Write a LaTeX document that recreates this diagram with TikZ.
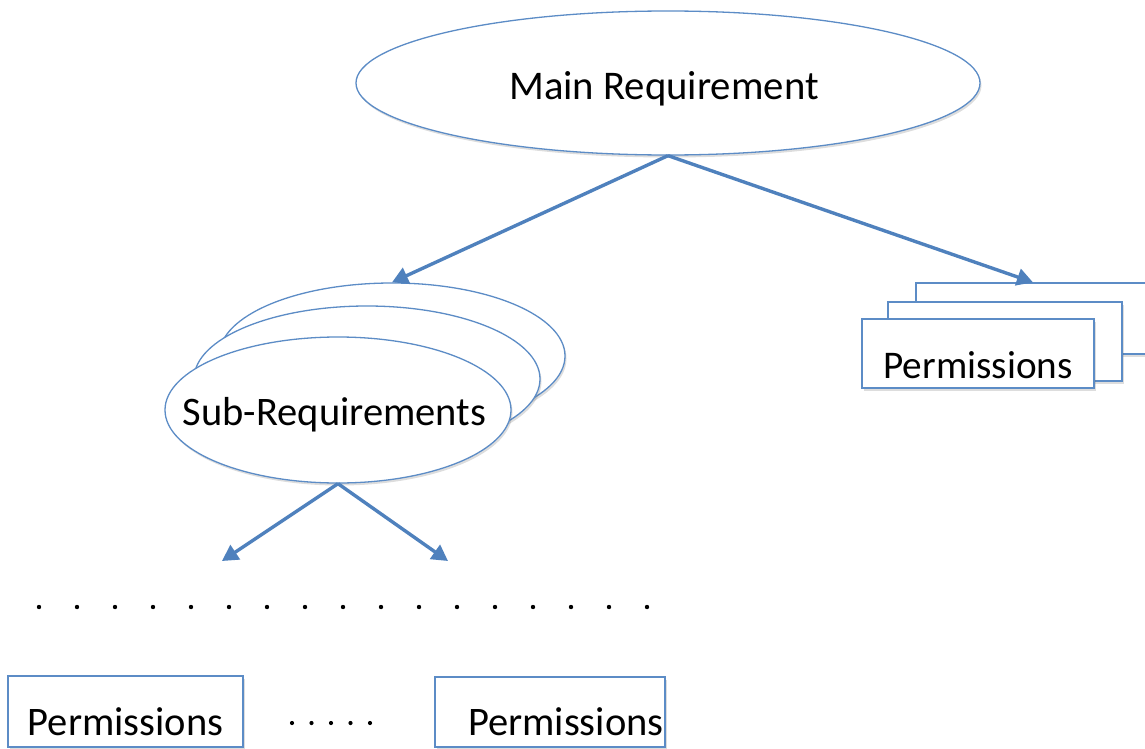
\documentclass[tikz,border=0pt]{standalone}
\usepackage{fontspec}
\setmainfont{Carlito}
\usetikzlibrary{shapes.geometric,arrows.meta,shadows}
\definecolor{ellc}{RGB}{92,140,198}
\definecolor{arrc}{RGB}{79,129,189}
\begin{document}
\begin{tikzpicture}[x=1pt,y=-1pt,
  shad/.style={drop shadow={shadow xshift=1.5pt,shadow yshift=-2.5pt,opacity=0.22,fill=black!60}},
  ell/.style={ellipse,draw=ellc,line width=1.3pt,fill=white,inner sep=0pt,shad},
  box/.style={rectangle,draw=ellc,line width=1.3pt,fill=white,inner sep=0pt,shad},
  conn/.style={draw=arrc,line width=3.4pt,-{Triangle[length=16pt,width=17pt]}},
  bigtxt/.style={font=\fontsize{40.5}{46}\selectfont},
  dotmark/.style={fill=black}]
\useasboundingbox (0,0) rectangle (1145,749);

% main requirement
\node[ell,minimum width=624pt,minimum height=144pt,
      font=\fontsize{40.7}{46}\selectfont,text height=34pt,text depth=0pt]
  (main) at (668,83) {\makebox[0pt]{\hspace*{-8pt}Main Requirement}};

% stacked sub-requirements
\node[ell,minimum width=346pt,minimum height=146pt] (sb) at (392,356) {};
\node[ell,minimum width=346pt,minimum height=146pt] (sm) at (367,379) {};
\node[ell,minimum width=346pt,minimum height=146pt,bigtxt,
      text height=30pt,text depth=0pt] (sf) at (338,410) {\makebox[0pt]{\hspace*{-7pt}Sub-Requirements}};

% stacked permissions (right)
\node[box,minimum width=234pt,minimum height=71pt] (rb) at (1033,318.5) {};
\node[box,minimum width=234pt,minimum height=79pt] (rm) at (1005,341.5) {};
\node[box,minimum width=232pt,minimum height=69pt,
      font=\fontsize{39.2}{46}\selectfont,text height=49pt,text depth=0pt]
  (rf) at (978,353.5) {Permissions};

% connectors
\draw[conn] (main.south) -- (sb.north);
\draw[conn] (main.south) -- (rb.north);
\coordinate (la) at (222,561);
\coordinate (ra) at (448,561);
\draw[conn] (sf.south) -- (la);
\draw[conn] (sf.south) -- (ra);

% dotted row
\foreach \i in {0,...,16} \fill[dotmark] (39+38*\i,607) circle (2.2pt);

% bottom permissions
\node[box,minimum width=235pt,minimum height=71pt,bigtxt,
      text height=47pt,text depth=0pt] (pl) at (125.5,711.5) {Permissions};
\node[box,minimum width=230pt,minimum height=70pt,bigtxt,
      text height=47pt,text depth=0pt,text width=227pt,align=right] (pr) at (550,712) {Permissions};
\foreach \i in {0,...,4} \fill[dotmark] (292+19.5*\i,723) circle (2.1pt);
\end{tikzpicture}
\end{document}
